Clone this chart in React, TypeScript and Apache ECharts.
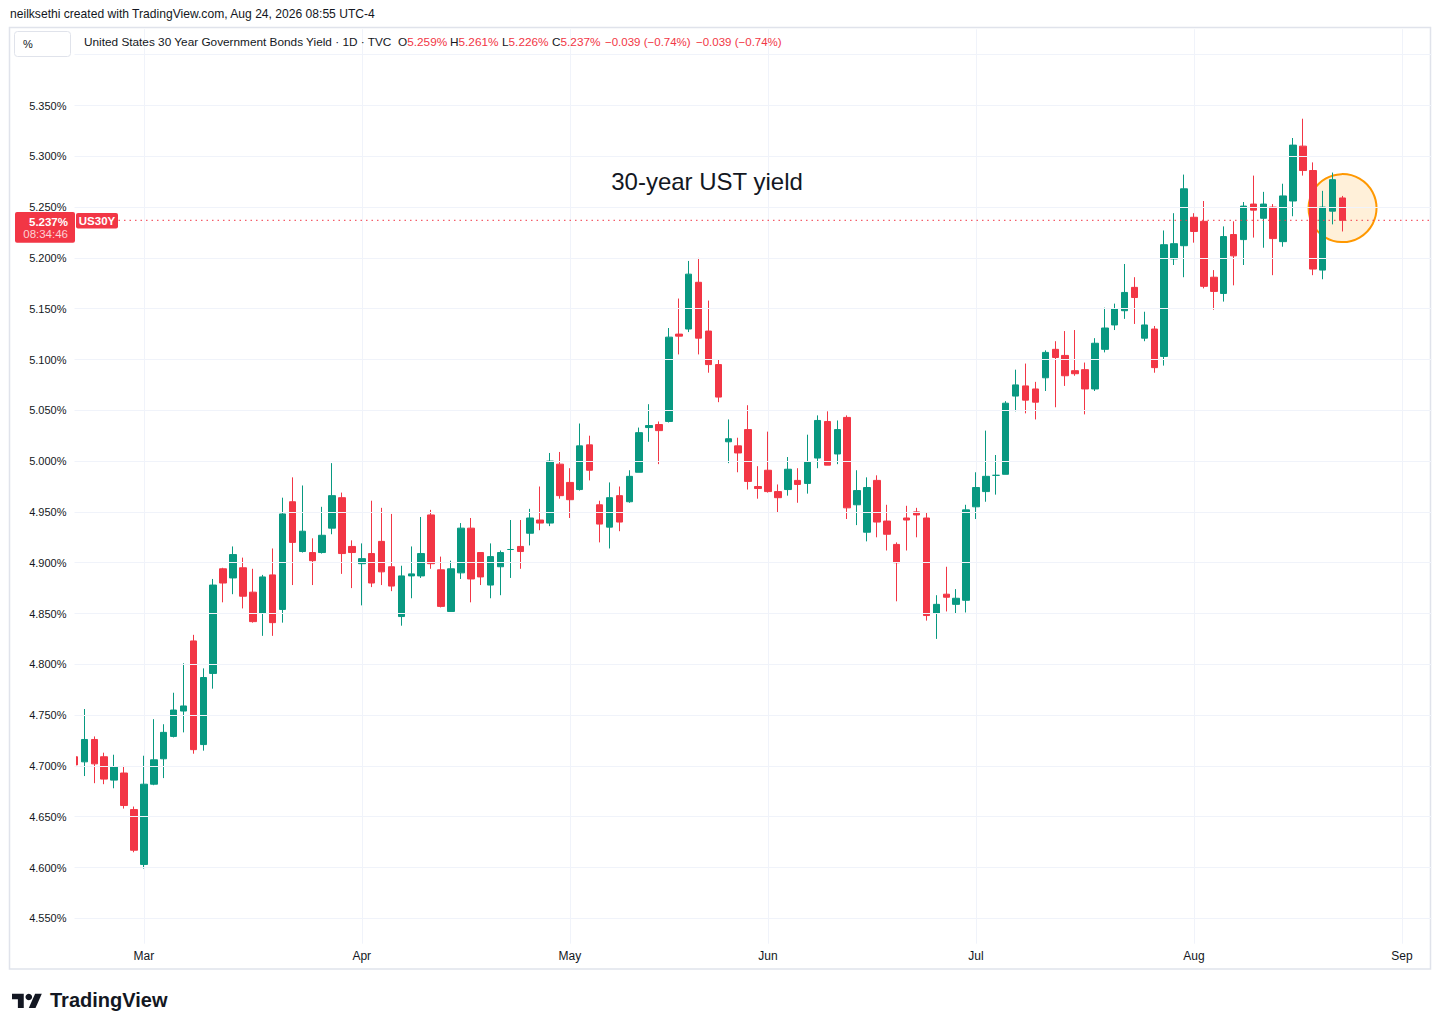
import React, { useEffect, useRef } from "react";
import * as echarts from "echarts";

// ---- Calendar (trading days shown on the time axis) ----
const START_DATE = "2026-02-19";
const END_DATE = "2026-09-04";
const HOLIDAYS = ["2026-04-03", "2026-05-25", "2026-06-19", "2026-07-03"];
const MONTH_LABELS = ["Jan", "Feb", "Mar", "Apr", "May", "Jun", "Jul", "Aug", "Sep", "Oct", "Nov", "Dec"];

// ---- Daily OHLC of US30Y (%), Feb 19 .. Aug 24, 2026 ----
const openValues = [
  4.709, 4.704, 4.726, 4.709, 4.686, 4.693, 4.657, 4.603, 4.682, 4.707,
  4.729, 4.754, 4.823, 4.721, 4.791, 4.894, 4.885, 4.895, 4.871, 4.850,
  4.888, 4.854, 4.960, 4.911, 4.910, 4.910, 4.934, 4.964, 4.916, 4.899,
  4.909, 4.921, 4.896, 4.847, 4.887, 4.887, 4.947, 4.893, 4.852, 4.890,
  4.934, 4.910, 4.878, 4.896, 4.913, 4.916, 4.929, 4.942, 4.939, 4.997,
  4.979, 4.972, 5.016, 4.957, 4.935, 4.966, 4.960, 4.989, 5.033, 5.036,
  5.039, 5.125, 5.130, 5.176, 5.128, 5.095, 5.019, 5.015, 5.031, 4.975,
  4.991, 4.970, 4.972, 4.981, 4.978, 5.003, 5.039, 5.007, 5.043, 4.957,
  4.930, 4.981, 4.941, 4.918, 4.944, 4.950, 4.944, 4.850, 4.869, 4.859,
  4.863, 4.955, 4.970, 4.986, 4.987, 5.064, 5.074, 5.071, 5.082, 5.110,
  5.104, 5.089, 5.090, 5.071, 5.110, 5.134, 5.148, 5.171, 5.121, 5.130,
  5.103, 5.199, 5.212, 5.240, 5.236, 5.181, 5.165, 5.223, 5.218, 5.253,
  5.239, 5.250, 5.216, 5.256, 5.310, 5.286, 5.188, 5.246, 5.259,
];
const closeValues = [
  4.701, 4.726, 4.702, 4.687, 4.699, 4.661, 4.617, 4.682, 4.706, 4.733,
  4.755, 4.759, 4.716, 4.787, 4.878, 4.880, 4.908, 4.867, 4.842, 4.886,
  4.841, 4.948, 4.920, 4.931, 4.902, 4.927, 4.966, 4.909, 4.910, 4.904,
  4.880, 4.891, 4.877, 4.887, 4.889, 4.909, 4.899, 4.857, 4.894, 4.934,
  4.884, 4.886, 4.906, 4.910, 4.913, 4.911, 4.944, 4.939, 5.000, 4.966,
  4.962, 5.015, 4.991, 4.938, 4.964, 4.940, 4.985, 5.028, 5.035, 5.030,
  5.122, 5.123, 5.184, 5.121, 5.095, 5.063, 5.022, 5.008, 4.980, 4.973,
  4.970, 4.964, 4.992, 4.977, 4.999, 5.040, 4.996, 5.031, 4.954, 4.971,
  4.974, 4.940, 4.928, 4.900, 4.942, 4.947, 4.848, 4.859, 4.866, 4.865,
  4.952, 4.974, 4.985, 4.986, 5.057, 5.075, 5.060, 5.058, 5.107, 5.102,
  5.084, 5.086, 5.071, 5.116, 5.131, 5.150, 5.166, 5.161, 5.134, 5.092,
  5.213, 5.214, 5.268, 5.226, 5.172, 5.167, 5.221, 5.202, 5.251, 5.247,
  5.253, 5.219, 5.261, 5.311, 5.286, 5.189, 5.250, 5.277, 5.237,
];
const lowValues = [
  4.699, 4.690, 4.683, 4.682, 4.678, 4.658, 4.615, 4.599, 4.681, 4.688,
  4.728, 4.733, 4.712, 4.715, 4.776, 4.861, 4.869, 4.855, 4.841, 4.828,
  4.828, 4.841, 4.878, 4.910, 4.878, 4.909, 4.928, 4.889, 4.875, 4.858,
  4.876, 4.878, 4.872, 4.838, 4.865, 4.885, 4.894, 4.856, 4.852, 4.884,
  4.861, 4.878, 4.865, 4.868, 4.885, 4.894, 4.917, 4.932, 4.936, 4.963,
  4.944, 4.971, 4.981, 4.920, 4.914, 4.931, 4.959, 4.989, 5.019, 4.997,
  5.038, 5.105, 5.127, 5.105, 5.087, 5.058, 4.998, 4.989, 4.972, 4.963,
  4.969, 4.949, 4.966, 4.959, 4.968, 4.993, 4.996, 4.997, 4.943, 4.937,
  4.921, 4.925, 4.912, 4.862, 4.912, 4.925, 4.843, 4.825, 4.852, 4.850,
  4.851, 4.943, 4.960, 4.967, 4.987, 5.049, 5.047, 5.041, 5.069, 5.053,
  5.074, 5.084, 5.046, 5.069, 5.107, 5.129, 5.140, 5.135, 5.118, 5.087,
  5.094, 5.193, 5.181, 5.215, 5.170, 5.149, 5.157, 5.173, 5.193, 5.220,
  5.210, 5.183, 5.211, 5.241, 5.281, 5.183, 5.179, 5.233, 5.226,
];
const highValues = [
  4.711, 4.756, 4.729, 4.713, 4.711, 4.700, 4.660, 4.710, 4.746, 4.741,
  4.772, 4.801, 4.829, 4.796, 4.884, 4.895, 4.916, 4.905, 4.894, 4.888,
  4.914, 4.964, 4.984, 4.976, 4.924, 4.955, 4.998, 4.969, 4.922, 4.919,
  4.961, 4.954, 4.948, 4.897, 4.916, 4.945, 4.952, 4.906, 4.902, 4.939,
  4.944, 4.910, 4.919, 4.912, 4.942, 4.942, 4.953, 4.975, 5.008, 5.009,
  4.993, 5.037, 5.025, 4.961, 4.979, 4.975, 4.991, 5.033, 5.056, 5.039,
  5.131, 5.160, 5.197, 5.200, 5.158, 5.100, 5.041, 5.023, 5.055, 4.995,
  5.029, 4.977, 5.004, 4.993, 5.026, 5.045, 5.049, 5.040, 5.045, 4.991,
  4.984, 4.986, 4.957, 4.920, 4.956, 4.954, 4.949, 4.868, 4.896, 4.874,
  4.957, 4.989, 5.030, 5.006, 5.059, 5.090, 5.096, 5.078, 5.109, 5.118,
  5.128, 5.129, 5.097, 5.121, 5.151, 5.155, 5.194, 5.181, 5.147, 5.133,
  5.227, 5.244, 5.282, 5.244, 5.256, 5.188, 5.231, 5.236, 5.255, 5.281,
  5.265, 5.253, 5.273, 5.318, 5.337, 5.294, 5.266, 5.284, 5.261,
];

// ---- Axis ticks / annotations ----
const yTickLabels = [
  "4.550%", "4.600%", "4.650%", "4.700%", "4.750%", "4.800%", "4.850%", "4.900%", "4.950%",
  "5.000%", "5.050%", "5.100%", "5.150%", "5.200%", "5.250%", "5.300%", "5.350%",
];
const Y_MIN = 4.525;
const Y_MAX = 5.425;
const Y_STEP = 0.025;
const lastPrice = 5.237;
const highlightCenter = 5.249;
const legendValues = ["5.259%", "5.261%", "5.226%", "5.237%"];
const legendChange = "\u22120.039 (\u22120.74%)";

const GREEN = "#089981";
const RED = "#f23645";
const TEXT = "#131722";
const GRID = "#f0f3fa";
const FONT = "'Liberation Sans', Arial, sans-serif";

function buildTradingDays(): string[] {
  const out: string[] = [];
  const d = new Date(START_DATE + "T00:00:00Z");
  const end = new Date(END_DATE + "T00:00:00Z");
  while (d.getTime() <= end.getTime()) {
    const wd = d.getUTCDay();
    const s = d.toISOString().slice(0, 10);
    if (wd !== 0 && wd !== 6 && HOLIDAYS.indexOf(s) < 0) out.push(s);
    d.setUTCDate(d.getUTCDate() + 1);
  }
  return out;
}

export default function App() {
  const ref = useRef<HTMLDivElement>(null);

  useEffect(() => {
    if (!ref.current) return;
    const chart = echarts.init(ref.current, undefined, { renderer: "svg" });
    const dates = buildTradingDays();
    const monthStart = new Set<number>();
    for (let i = 1; i < dates.length; i++) {
      if (dates[i].slice(5, 7) !== dates[i - 1].slice(5, 7)) monthStart.add(i);
    }
    const candles = openValues.map((o, i) => [o, closeValues[i], lowValues[i], highValues[i]]);
    const lastDate = dates[candles.length - 1];

    chart.setOption({
      animation: false,
      backgroundColor: "#ffffff",
      grid: { left: 74.5, right: 9.3, top: 29.3, bottom: 86.3, containLabel: false },
      xAxis: {
        type: "category",
        data: dates,
        boundaryGap: false,
        axisLine: { show: false },
        axisTick: { show: false },
        axisLabel: {
          interval: (idx: number) => monthStart.has(idx),
          formatter: (v: string) => MONTH_LABELS[parseInt(v.slice(5, 7), 10) - 1],
          color: TEXT,
          fontSize: 12,
          fontFamily: FONT,
          margin: 6,
        },
        splitLine: {
          show: true,
          interval: (idx: number) => monthStart.has(idx),
          lineStyle: { color: GRID, width: 1 },
        },
      },
      yAxis: {
        type: "value",
        position: "left",
        z: 20,
        min: Y_MIN,
        max: Y_MAX,
        interval: Y_STEP,
        axisLine: { show: false },
        axisTick: { show: false },
        axisLabel: {
          margin: 8,
          color: TEXT,
          fontSize: 11,
          fontFamily: FONT,
          formatter: (v: number) => {
            const s = v.toFixed(3) + "%";
            return yTickLabels.indexOf(s) >= 0 ? s : "";
          },
        },
        splitLine: {
          show: true,
          showMinLine: true,
          showMaxLine: true,
          lineStyle: { color: ["rgba(0,0,0,0)", GRID], width: 1 },
        },
      },
      series: [
        {
          type: "scatter",
          z: 1,
          silent: true,
          symbol: "circle",
          symbolSize: 68,
          data: [[lastDate, highlightCenter]],
          itemStyle: { color: "rgba(255,152,0,0.15)", borderColor: "#ff9800", borderWidth: 2, opacity: 1 },
        },
        {
          type: "candlestick",
          z: 3,
          barWidth: 7,
          data: candles,
          itemStyle: {
            color: GREEN,
            color0: RED,
            borderColor: GREEN,
            borderColor0: RED,
            borderWidth: 1,
          },
        },
        {
          type: "line",
          z: 4,
          silent: true,
          symbol: "none",
          data: [
            [dates[0], lastPrice],
            [dates[dates.length - 1], lastPrice],
          ],
          lineStyle: { color: RED, width: 1, type: [1.5, 4] },
          itemStyle: { color: RED },
        },
      ],
    });

    const py = chart.convertToPixel({ yAxisIndex: 0 }, lastPrice) as number;
    const t = (x: number, y: number, text: string, extra: any = {}) => ({
      type: "text",
      x,
      y,
      silent: true,
      style: {
        text,
        fill: TEXT,
        fontSize: 11.8,
        fontFamily: FONT,
        align: "left",
        verticalAlign: "middle",
        ...extra,
      },
    });
    const rich = { n: { fill: TEXT, fontSize: 11.8, fontFamily: FONT }, r: { fill: RED, fontSize: 11.8, fontFamily: FONT } };
    const legendLetters = ["O", "H", "L", "C"];
    const legendX = [398, 450, 502, 552];

    chart.setOption({
      graphic: [
        {
          type: "rect",
          silent: true,
          z: 10,
          shape: { x: 11, y: 60, width: 65, height: 882 },
          style: { fill: "#ffffff" },
        },
        {
          type: "rect",
          silent: true,
          z: 11,
          shape: { x: 9.5, y: 27.5, width: 1421, height: 941.5 },
          style: { fill: "none", stroke: "#e0e3eb", lineWidth: 1.5 },
        },
        t(10, 14, "neilksethi created with TradingView.com, Aug 24, 2026 08:55 UTC-4", { fontSize: 12.1 }),
        {
          type: "rect",
          silent: true,
          z: 11,
          shape: { x: 14.5, y: 31.5, width: 56, height: 25, r: 3 },
          style: { fill: "#ffffff", stroke: "#e0e3eb", lineWidth: 1 },
        },
        { ...t(23, 44, "%", { fontSize: 11 }), z: 12 },
        t(84, 42, "United States 30 Year Government Bonds Yield \u00b7 1D \u00b7 TVC"),
        ...legendLetters.map((L, i) =>
          t(legendX[i], 42, `{n|${L}}{r|${legendValues[i]}}`, { rich })
        ),
        t(605, 42, legendChange, { fill: RED, fontSize: 11.5 }),
        t(696, 42, legendChange, { fill: RED, fontSize: 11.5 }),
        t(707, 181, "30-year UST yield", { fontSize: 24, align: "center", fill: TEXT }),
        // current price label on the price scale
        {
          type: "rect",
          silent: true,
          z: 30,
          shape: { x: 15, y: py - 8.3, width: 60, height: 30.7, r: 2 },
          style: { fill: RED },
        },
        { ...t(68, py + 1.2, "5.237%", { fill: "#ffffff", fontWeight: "bold", fontSize: 11.5, align: "right" }), z: 31 },
        { ...t(68, py + 14, "08:34:46", { fill: "rgba(255,255,255,0.78)", fontSize: 11.5, align: "right" }), z: 31 },
        {
          type: "rect",
          silent: true,
          z: 30,
          shape: { x: 76, y: py - 7.3, width: 42, height: 15.6, r: 2 },
          style: { fill: RED },
        },
        { ...t(97, py + 0.6, "US30Y", { fill: "#ffffff", fontWeight: "bold", fontSize: 11.5, align: "center" }), z: 31 },
        // TradingView logo
        {
          type: "group",
          x: 12,
          y: 990.5,
          scaleX: 0.84,
          scaleY: 0.8,
          silent: true,
          children: [
            { type: "polygon", shape: { points: [[14, 22], [7, 22], [7, 11], [0, 11], [0, 4], [14, 4]] }, style: { fill: TEXT } },
            { type: "polygon", shape: { points: [[28, 22], [20, 22], [27.5, 4], [35.5, 4]] }, style: { fill: TEXT } },
            { type: "circle", shape: { cx: 20, cy: 8, r: 4 }, style: { fill: TEXT } },
          ],
        },
        t(50, 999.5, "TradingView", { fontSize: 20, fontWeight: "bold", fill: TEXT }),
      ],
    });

    return () => chart.dispose();
  }, []);

  return (
    <div
      ref={ref}
      style={{ position: "absolute", left: 0, top: 0, width: 1441, height: 1030, background: "#ffffff" }}
    />
  );
}
